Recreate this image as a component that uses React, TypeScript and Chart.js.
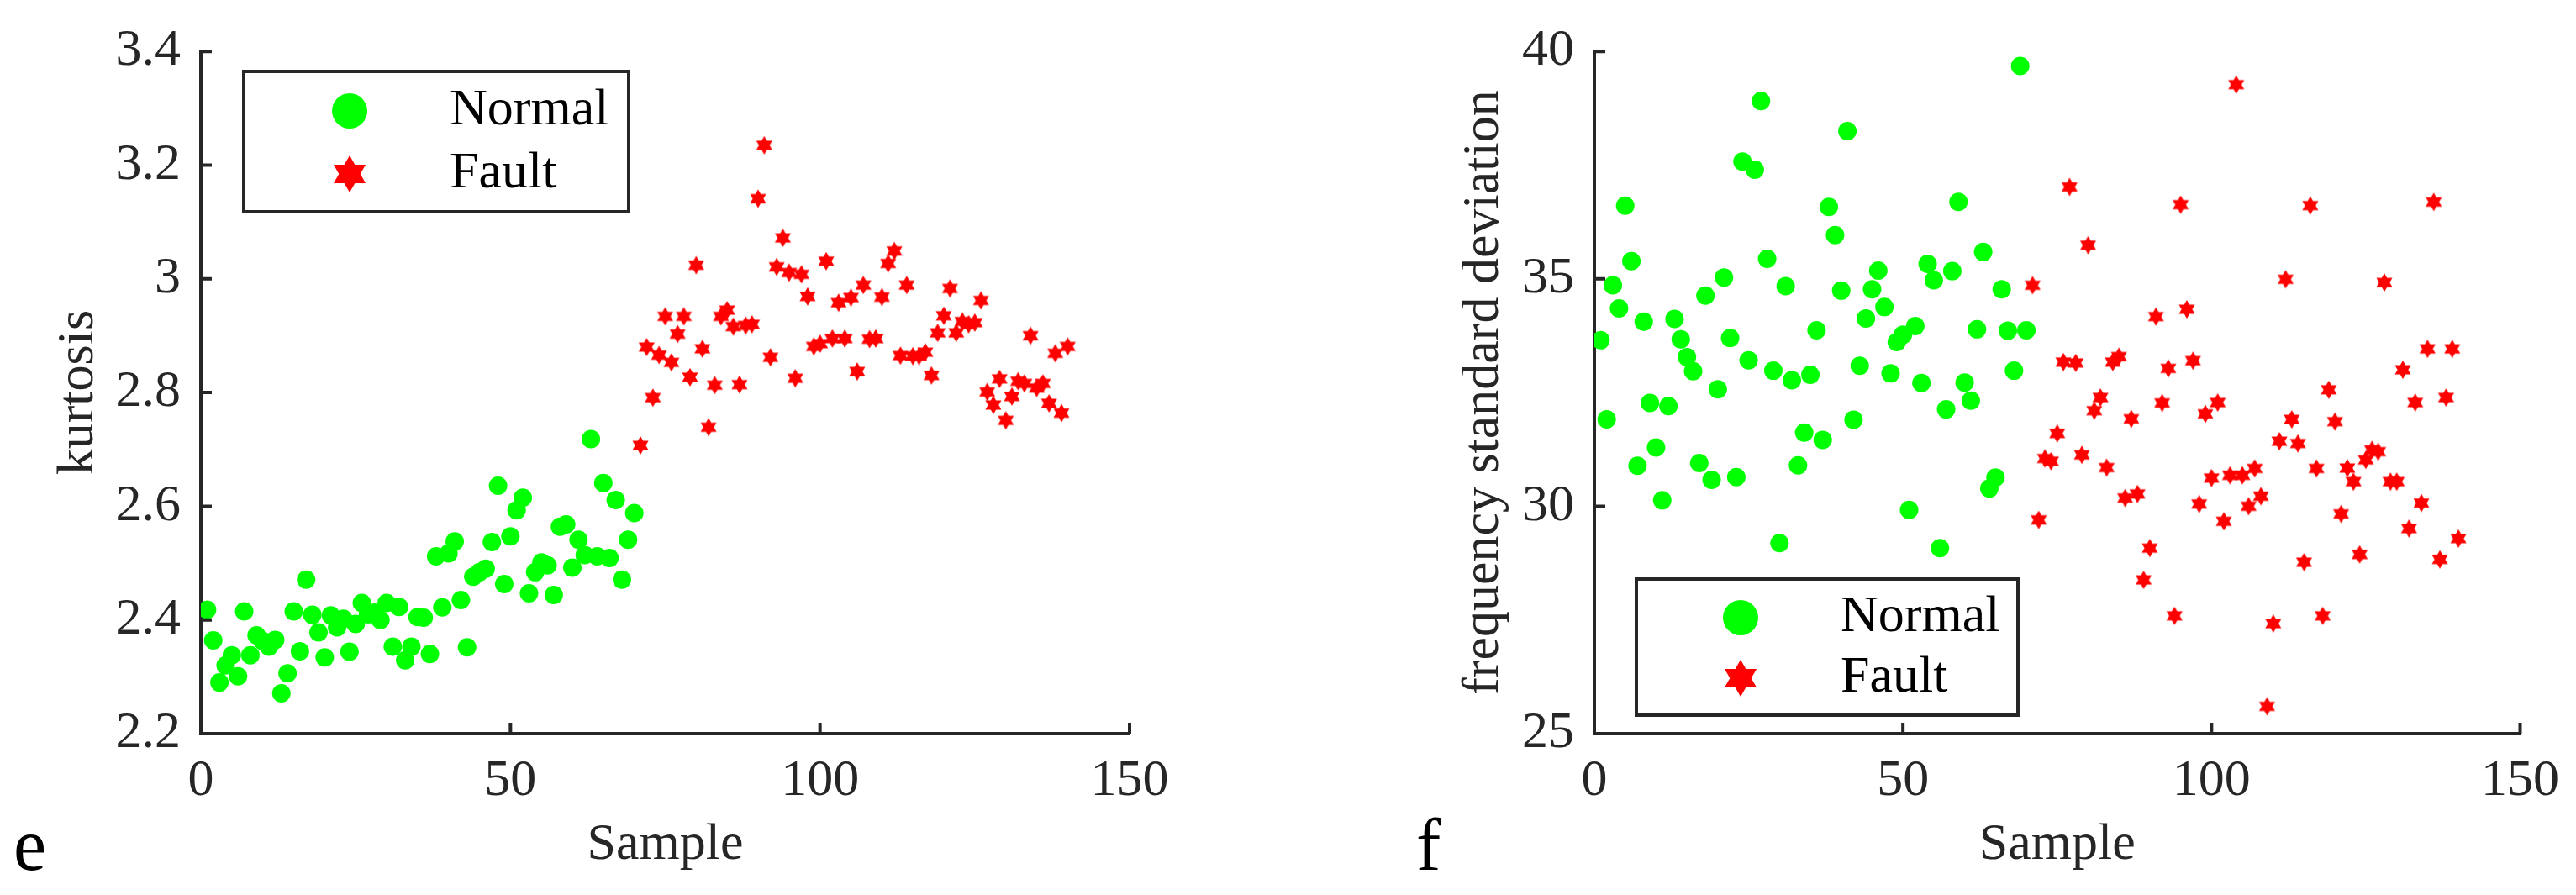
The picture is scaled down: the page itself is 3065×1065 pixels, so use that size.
import React, { useEffect, useRef } from "react";
import { Chart, registerables } from "chart.js";

Chart.register(...registerables);

// ---------------- DATA ----------------
const FIRST_NORMAL_SAMPLE = 1;
const FIRST_FAULT_SAMPLE = 71;

const normalKurtosis = [
  2.418, 2.364, 2.29, 2.32, 2.338, 2.301, 2.415, 2.338, 2.373, 2.363,
  2.353, 2.365, 2.271, 2.306, 2.415, 2.345, 2.471, 2.409, 2.378, 2.334,
  2.408, 2.387, 2.402, 2.344, 2.393, 2.43, 2.41, 2.413, 2.4, 2.43,
  2.353, 2.423, 2.329, 2.353, 2.405, 2.404, 2.34, 2.512, 2.422, 2.517,
  2.538, 2.435, 2.352, 2.476, 2.484, 2.49, 2.537, 2.636, 2.463, 2.547,
  2.593, 2.615, 2.447, 2.484, 2.501, 2.496, 2.444, 2.564, 2.568, 2.492,
  2.541, 2.514, 2.718, 2.512, 2.641, 2.509, 2.611, 2.471, 2.541, 2.588,
];

const faultKurtosis = [
  2.707, 2.88, 2.791, 2.866, 2.934, 2.853, 2.903, 2.934, 2.827, 3.024,
  2.877, 2.739, 2.813, 2.934, 2.945, 2.916, 2.814, 2.918, 2.92, 3.141,
  3.235, 2.862, 3.021, 3.072, 3.011, 2.825, 3.008, 2.969, 2.881, 2.886,
  3.031, 2.895, 2.958, 2.895, 2.967, 2.837, 2.989, 2.894, 2.895, 2.968,
  3.027, 3.049, 2.865, 2.989, 2.864, 2.864, 2.871, 2.83, 2.905, 2.935,
  2.983, 2.905, 2.925, 2.92, 2.923, 2.962, 2.801, 2.778, 2.824, 2.751,
  2.793, 2.82, 2.816, 2.9, 2.808, 2.816, 2.781, 2.869, 2.764, 2.881,
];

const normalFreqStd = [
  33.65, 31.91, 34.86, 34.35, 36.61, 35.39, 30.89, 34.06, 32.27, 31.29,
  30.13, 32.2, 34.12, 33.67, 33.28, 32.97, 30.95, 34.63, 30.58, 32.57,
  35.03, 33.7, 30.64, 37.58, 33.21, 37.4, 38.91, 35.44, 32.98, 29.19,
  34.84, 32.77, 30.9, 31.62, 32.89, 33.87, 31.46, 36.58, 35.96, 34.74,
  38.25, 31.9, 33.09, 34.13, 34.77, 35.18, 34.38, 32.92, 33.61, 33.77,
  29.92, 33.96, 32.71, 35.33, 34.97, 29.08, 32.13, 35.17, 36.69, 32.72,
  32.32, 33.89, 35.59, 30.39, 30.63, 34.77, 33.86, 32.98, 39.68, 33.87,
];

const faultFreqStd = [
  34.86, 29.7, 31.05, 30.99, 31.6, 33.17, 37.02, 33.15, 31.13, 35.74,
  32.1, 32.39, 30.85, 33.17, 33.29, 30.18, 31.92, 30.27, 28.38, 29.08,
  34.17, 32.27, 33.03, 27.59, 36.63, 34.33, 33.2, 30.05, 32.03, 30.62,
  32.28, 29.67, 30.68, 39.27, 30.68, 30.0, 30.83, 30.22, 25.6, 27.42,
  31.43, 34.99, 31.91, 31.38, 28.77, 36.61, 30.83, 27.59, 32.56, 31.86,
  29.83, 30.84, 30.54, 28.94, 31.02, 31.24, 31.2, 34.92, 30.54, 30.54,
  33.0, 29.51, 32.28, 30.07, 33.46, 36.69, 28.83, 32.39, 33.46, 29.29,
];

const sampleTicks = [0, 50, 100, 150];
const sampleTickLabels = ["0", "50", "100", "150"];
const kurtosisTicks = [2.2, 2.4, 2.6, 2.8, 3, 3.2, 3.4];
const kurtosisTickLabels = ["2.2", "2.4", "2.6", "2.8", "3", "3.2", "3.4"];
const freqStdTicks = [25, 30, 35, 40];
const freqStdTickLabels = ["25", "30", "35", "40"];
const seriesLabels = ["Normal", "Fault"];
const xAxisTitle = "Sample";

// ---------------- STYLE ----------------
const AXIS = "#262626";
const FONT = '"Liberation Serif", "Times New Roman", serif';
const FONT_SIZE = 62;
const GREEN = "#00ff00";
const RED = "#ff0000";
const H = 1065;
const AREA_TOP = 52;
const AREA_BOTTOM = 873;
const TICK_LEN = 13;

function makeStar(R: number, color: string): HTMLCanvasElement {
  const size = Math.ceil(2 * R + 2);
  const c = document.createElement("canvas");
  c.width = size;
  c.height = size;
  const ctx = c.getContext("2d")!;
  ctx.translate(size / 2, size / 2);
  ctx.beginPath();
  const r = R / Math.sqrt(3);
  for (let k = 0; k < 12; k++) {
    const ang = -Math.PI / 2 + (k * Math.PI) / 6;
    const rad = k % 2 === 0 ? R : r;
    const px = rad * Math.cos(ang);
    const py = rad * Math.sin(ang);
    if (k === 0) ctx.moveTo(px, py);
    else ctx.lineTo(px, py);
  }
  ctx.closePath();
  ctx.fillStyle = color;
  ctx.fill();
  return c;
}

interface PanelCfg {
  normal: number[];
  fault: number[];
  yMin: number;
  yMax: number;
  yTicks: number[];
  yTickLabels: string[];
  yTitle: string;
  letter: string;
  canvasLeft: number;
  canvasWidth: number;
  areaLeft: number;
  areaRight: number;
  yTitleX: number;
  letterX: number;
  legendBox: [number, number, number, number];
  legendMarkerX: number;
  legendTextX: number;
  legendRowsY: [number, number];
}

const panels: PanelCfg[] = [
  {
    normal: normalKurtosis,
    fault: faultKurtosis,
    yMin: 2.2,
    yMax: 3.4,
    yTicks: kurtosisTicks,
    yTickLabels: kurtosisTickLabels,
    yTitle: "kurtosis",
    letter: "e",
    canvasLeft: 0,
    canvasWidth: 1500,
    areaLeft: 239,
    areaRight: 1344,
    yTitleX: 94,
    letterX: 16,
    legendBox: [290, 85, 748, 252],
    legendMarkerX: 416,
    legendTextX: 535,
    legendRowsY: [132, 207],
  },
  {
    normal: normalFreqStd,
    fault: faultFreqStd,
    yMin: 25,
    yMax: 40,
    yTicks: freqStdTicks,
    yTickLabels: freqStdTickLabels,
    yTitle: "frequency standard deviation",
    letter: "f",
    canvasLeft: 1500,
    canvasWidth: 1565,
    areaLeft: 397,
    areaRight: 1501,
    yTitleX: 266,
    letterX: 185,
    legendBox: [447, 689, 901, 851],
    legendMarkerX: 571,
    legendTextX: 690,
    legendRowsY: [735, 807],
  },
];

function Panel({ cfg }: { cfg: PanelCfg }) {
  const ref = useRef<HTMLCanvasElement>(null);

  useEffect(() => {
    const canvas = ref.current;
    if (!canvas) return;
    const dataStar = makeStar(11, RED);
    const legendStar = makeStar(22, RED);
    const lineH = FONT_SIZE * 1.2;

    const decorPlugin = {
      id: "decor",
      afterDraw(chart: any) {
        const ctx: CanvasRenderingContext2D = chart.ctx;
        const xs = chart.scales.x;
        const ys = chart.scales.y;
        const area = chart.chartArea;
        ctx.save();
        // inward tick marks
        ctx.strokeStyle = AXIS;
        ctx.lineWidth = 4;
        ctx.lineCap = "butt";
        ctx.beginPath();
        for (const v of cfg.yTicks) {
          const py = ys.getPixelForValue(v);
          ctx.moveTo(area.left, py);
          ctx.lineTo(area.left + TICK_LEN, py);
        }
        for (const v of sampleTicks) {
          const px = xs.getPixelForValue(v);
          ctx.moveTo(px, area.bottom);
          ctx.lineTo(px, area.bottom - TICK_LEN);
        }
        ctx.stroke();

        // legend
        const [bx1, by1, bx2, by2] = cfg.legendBox;
        ctx.fillStyle = "#ffffff";
        ctx.fillRect(bx1, by1, bx2 - bx1, by2 - by1);
        ctx.strokeStyle = AXIS;
        ctx.lineWidth = 4;
        ctx.strokeRect(bx1, by1, bx2 - bx1, by2 - by1);
        // markers
        ctx.fillStyle = GREEN;
        ctx.beginPath();
        ctx.arc(cfg.legendMarkerX, cfg.legendRowsY[0], 21, 0, Math.PI * 2);
        ctx.fill();
        ctx.drawImage(
          legendStar,
          cfg.legendMarkerX - legendStar.width / 2,
          cfg.legendRowsY[1] - legendStar.height / 2
        );
        ctx.fillStyle = "#000000";
        ctx.font = `${FONT_SIZE}px ${FONT}`;
        ctx.textAlign = "left";
        ctx.textBaseline = "middle";
        ctx.fillText(seriesLabels[0], cfg.legendTextX, cfg.legendRowsY[0]);
        ctx.fillText(seriesLabels[1], cfg.legendTextX, cfg.legendRowsY[1]);

        // panel letter
        ctx.font = `88px ${FONT}`;
        ctx.textBaseline = "alphabetic";
        ctx.fillText(cfg.letter, cfg.letterX, 1035);
        ctx.restore();
      },
    };

    const chart = new Chart(canvas, {
      type: "scatter",
      data: {
        datasets: [
          {
            label: seriesLabels[0],
            data: cfg.normal.map((y, i) => ({ x: FIRST_NORMAL_SAMPLE + i, y })),
            pointStyle: "circle",
            pointRadius: 11,
            pointBackgroundColor: GREEN,
            backgroundColor: GREEN,
            borderWidth: 0,
            pointBorderWidth: 0,
            borderColor: GREEN,
          },
          {
            label: seriesLabels[1],
            data: cfg.fault.map((y, i) => ({ x: FIRST_FAULT_SAMPLE + i, y })),
            pointStyle: dataStar as any,
            pointRadius: 11,
            backgroundColor: RED,
            borderColor: RED,
            borderWidth: 0,
          },
        ],
      },
      options: {
        animation: false,
        responsive: false,
        devicePixelRatio: 1,
        events: [],
        layout: {
          padding: {
            left: 0,
            top: AREA_TOP,
            right: cfg.canvasWidth - cfg.areaRight,
            bottom: 0,
          },
        },
        plugins: {
          legend: { display: false },
          tooltip: { enabled: false },
        },
        scales: {
          x: {
            type: "linear",
            min: 0,
            max: 150,
            afterBuildTicks: (s: any) => {
              s.ticks = sampleTicks.map((v) => ({ value: v }));
            },
            afterFit: (s: any) => {
              s.height = H - AREA_BOTTOM;
            },
            grid: { display: false, drawTicks: false },
            border: { display: true, color: AXIS, width: 4 },
            ticks: {
              padding: 20,
              color: AXIS,
              font: { family: FONT, size: FONT_SIZE },
              maxRotation: 0,
              autoSkip: false,
              callback: (v: any) => {
                const idx = sampleTicks.indexOf(Number(v));
                return idx >= 0 ? sampleTickLabels[idx] : "";
              },
            },
            title: {
              display: true,
              text: xAxisTitle,
              color: AXIS,
              font: { family: FONT, size: FONT_SIZE },
              padding: { top: 0, bottom: H - 1006 - lineH / 2 },
            },
          },
          y: {
            type: "linear",
            min: cfg.yMin,
            max: cfg.yMax,
            afterBuildTicks: (s: any) => {
              s.ticks = cfg.yTicks.map((v) => ({ value: v }));
            },
            afterFit: (s: any) => {
              s.width = cfg.areaLeft;
            },
            grid: { display: false, drawTicks: false },
            border: { display: true, color: AXIS, width: 4 },
            ticks: {
              padding: 24,
              color: AXIS,
              font: { family: FONT, size: FONT_SIZE },
              autoSkip: false,
              callback: (v: any) => {
                const n = Number(v);
                const idx = cfg.yTicks.findIndex((t) => Math.abs(t - n) < 1e-9);
                return idx >= 0 ? cfg.yTickLabels[idx] : "";
              },
            },
            title: {
              display: true,
              text: cfg.yTitle,
              color: AXIS,
              font: { family: FONT, size: FONT_SIZE },
              padding: { top: cfg.yTitleX - lineH / 2, bottom: 0 },
            },
          },
        },
      } as any,
      plugins: [decorPlugin],
    });
    return () => chart.destroy();
  }, [cfg]);

  return (
    <canvas
      ref={ref}
      width={cfg.canvasWidth}
      height={H}
      style={{
        position: "absolute",
        left: cfg.canvasLeft,
        top: 0,
        width: cfg.canvasWidth,
        height: H,
        display: "block",
      }}
    />
  );
}

export default function App() {
  return (
    <div
      style={{
        position: "absolute",
        left: 0,
        top: 0,
        width: 3065,
        height: H,
        background: "#ffffff",
        overflow: "hidden",
      }}
    >
      {panels.map((p, i) => (
        <Panel key={i} cfg={p} />
      ))}
    </div>
  );
}
